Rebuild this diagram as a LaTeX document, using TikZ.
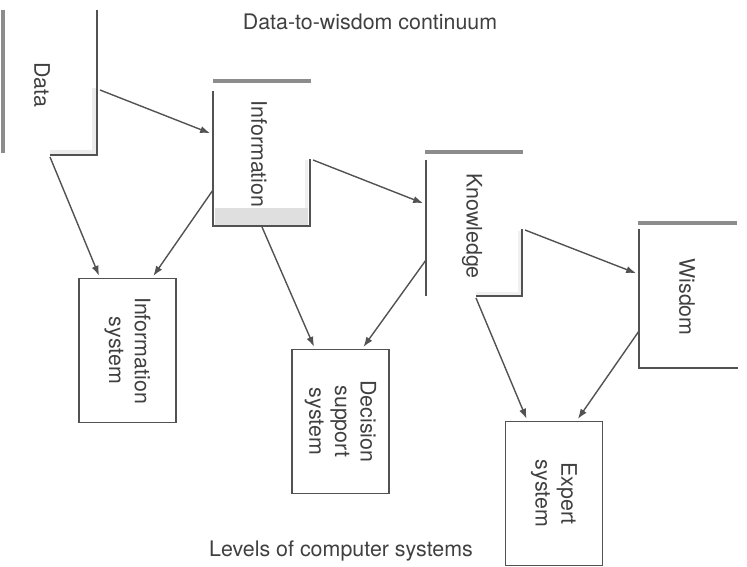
\documentclass[tikz,border=0pt]{standalone}
\usepackage{fontspec}
\setmainfont{TeX Gyre Heros}
\usepackage{tikz}
\usetikzlibrary{calc,arrows.meta,positioning}
\tikzset{>={Latex[length=5pt,width=3.6pt]}}
\definecolor{linegray}{gray}{0.32}
\definecolor{bargray}{gray}{0.55}
\definecolor{txtgray}{gray}{0.25}

\begin{document}
\begin{tikzpicture}[x=0.5pt,y=-0.5pt,
    every node/.style={font=\fontsize{10.7}{12.8}\selectfont, text=txtgray},
    level/.style={rotate=-90, inner sep=0pt},
    sysbox/.style={draw=linegray, line width=0.9pt, rotate=-90, align=center,
        minimum width=72pt, minimum height=48.5pt, inner sep=0pt},
    bar/.style={bargray, line width=1.6pt},
    wall/.style={linegray, line width=0.8pt},
    link/.style={->, linegray, line width=0.7pt, shorten >=1pt}]
    \useasboundingbox (0,0) rectangle (747,566);

    \node (title) at (370,22) {Data-to-wisdom continuum};
    \node (levels) at (341,551) {Levels of computer systems};

    % data
    \draw[bar] (3,10) -- (3,153);
    \fill[gray!15] (92,88) rectangle (96,154) (50,150) rectangle (96,154);
    \draw[wall] (97,10) -- (97,155) -- (50,155);
    \node[level] (data) at (42,85) {Data};
    \coordinate (data-a) at (100,90);
    \coordinate (data-b) at (50,157);

    % information
    \draw[bar] (213,81) -- (311,81);
    \fill[gray!25] (215,208) rectangle (308,225);
    \fill[gray!12] (305,160) rectangle (308,208);
    \draw[wall] (213,91) -- (213,226) -- (310,226) -- (310,159);
    \node[level] (info) at (259,154) {Information};
    \coordinate (info-a) at (212,134);
    \coordinate (info-b) at (213,190);
    \coordinate (info-c) at (313,160);
    \coordinate (info-d) at (262,227);

    % knowledge
    \draw[bar] (425,152) -- (523,152);
    \fill[gray!12] (518,231) rectangle (521,295) (476,292) rectangle (521,295);
    \draw[wall] (426,160) -- (426,296);
    \draw[wall] (476,296) -- (522,296) -- (522,229);
    \node[level] (know) at (472,226) {Knowledge};
    \coordinate (know-a) at (425,204);
    \coordinate (know-b) at (426,260);
    \coordinate (know-c) at (525,230);
    \coordinate (know-d) at (476,298);

    % wisdom
    \draw[bar] (638,223) -- (737,223);
    \draw[wall] (639,229) -- (639,368) -- (738,368);
    \node[level] (wis) at (687,297) {Wisdom};
    \coordinate (wis-a) at (638,274);
    \coordinate (wis-b) at (639,331);

    % computer systems
    \node[sysbox] (isys) at (127.5,350.5) {Information\\system};
    \node[sysbox] (dss) at (340.5,421.5) {Decision\\support\\system};
    \node[sysbox] (esys) at (554,493.5) {Expert\\system};

    \draw[link] (data-a) -- (info-a);
    \draw[link] (info-c) -- (know-a);
    \draw[link] (know-c) -- (wis-a);

    \draw[link] (data-b) -- ($(isys.south west)!.22!(isys.north west)$);
    \draw[link] (info-b) -- ($(isys.south west)!.75!(isys.north west)$);
    \draw[link] (info-d) -- ($(dss.south west)!.24!(dss.north west)$);
    \draw[link] (know-b) -- ($(dss.south west)!.72!(dss.north west)$);
    \draw[link] (know-d) -- ($(esys.south west)!.23!(esys.north west)$);
    \draw[link] (wis-b) -- ($(esys.south west)!.73!(esys.north west)$);
\end{tikzpicture}
\end{document}
